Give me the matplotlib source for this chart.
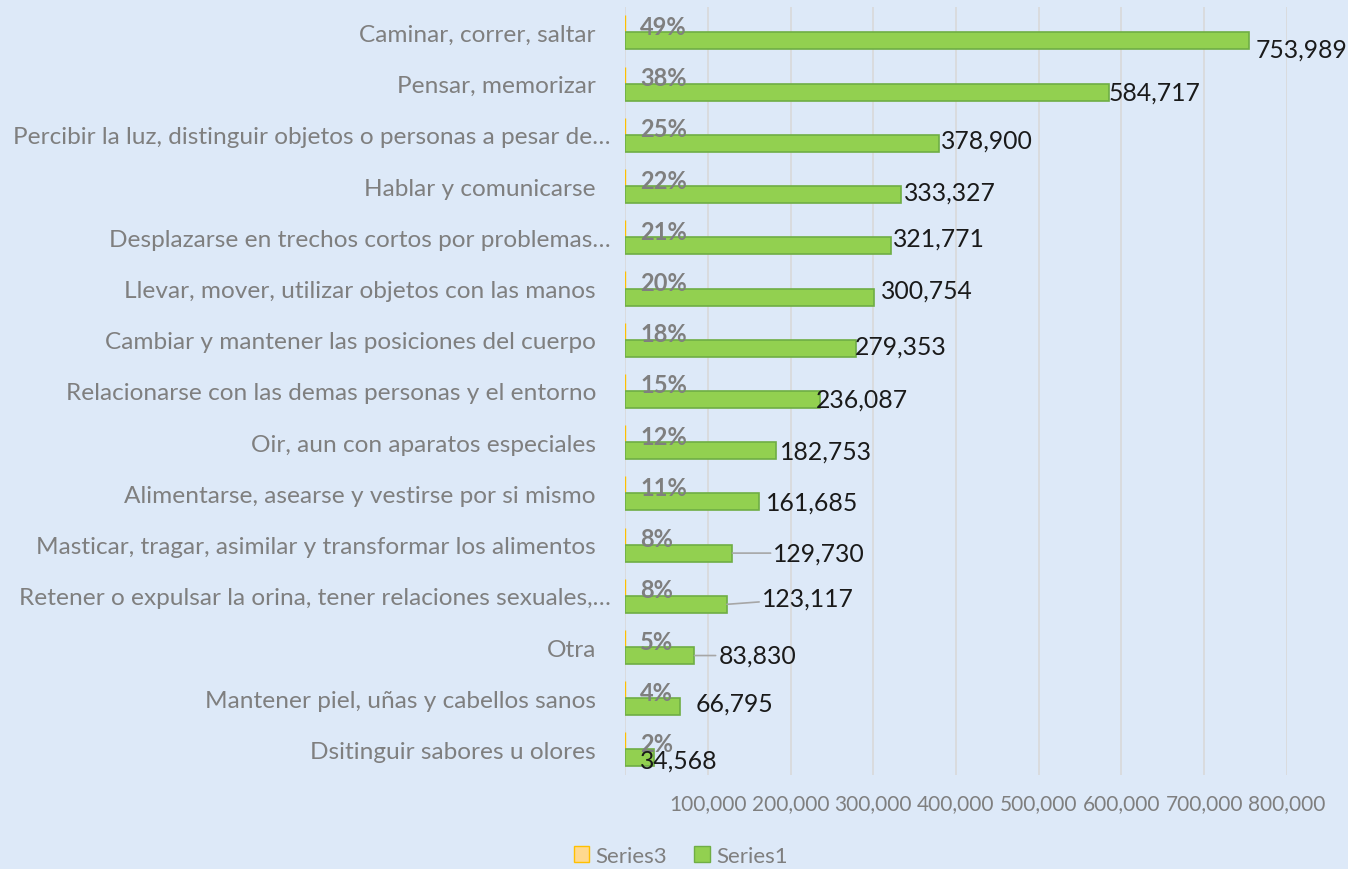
import matplotlib
matplotlib.use("Agg")
import matplotlib.pyplot as plt
import matplotlib.transforms as mtransforms
from matplotlib.patches import Patch
from matplotlib.ticker import FuncFormatter

# ---------------- data ----------------
categories = [
    "Caminar, correr, saltar",
    "Pensar, memorizar",
    "Percibir la luz, distinguir objetos o personas a pesar de…",
    "Hablar y comunicarse",
    "Desplazarse en trechos cortos por problemas…",
    "Llevar, mover, utilizar objetos con las manos",
    "Cambiar y mantener las posiciones del cuerpo",
    "Relacionarse con las demas personas y el entorno",
    "Oir, aun con aparatos especiales",
    "Alimentarse, asearse y vestirse por si mismo",
    "Masticar, tragar, asimilar y transformar los alimentos",
    "Retener o expulsar la orina, tener relaciones sexuales,…",
    "Otra",
    "Mantener piel, uñas y cabellos sanos",
    "Dsitinguir sabores u olores",
]
series1 = [753989, 584717, 378900, 333327, 321771, 300754, 279353, 236087,
           182753, 161685, 129730, 123117, 83830, 66795, 34568]
series3 = [0.49, 0.38, 0.25, 0.22, 0.21, 0.20, 0.18, 0.15,
           0.12, 0.11, 0.08, 0.08, 0.05, 0.04, 0.02]
xticks = [100000, 200000, 300000, 400000, 500000, 600000, 700000, 800000]

# label nudges in pixels (dx, dy), leader line flag
label_off = [(7, -8, 0), (0, 0, 0), (2, 3, 0), (3, 3, 0), (2, 8, 0),
             (7, 7, 0), (-1, 2, 0), (-5, 0, 0), (4, 0, 0), (7, 0, 0),
             (41, 0, 1), (35, 6, 1), (24, 0, 1), (15, 4, 0), (-14, -2, 0)]

bg = "#dde9f8"
green = "#92d050"
green_edge = "#6fae45"
orange_face = "#ffd98f"
orange_edge = "#ffc000"
grey = "#7f7f7f"

plt.rcParams['font.family'] = ['Lato', 'DejaVu Sans']

fig = plt.figure(figsize=(13.48, 8.7), dpi=100, facecolor=bg)
ax = fig.add_axes([0.4637, 0.108, 0.4910, 0.883])
ax.set_facecolor(bg)

ypos = list(range(len(categories)))
h = 0.333
ax.barh([y - h / 2 for y in ypos], series3, height=h, color=orange_face,
        edgecolor=orange_edge, linewidth=1, zorder=3)
ax.barh([y + h / 2 for y in ypos], series1, height=h, color=green,
        edgecolor=green_edge, linewidth=1.2, zorder=3)

ax.set_ylim(len(categories) - 0.5, -0.5)
ax.set_xlim(0, 800000)
ax.set_yticks(ypos)
ax.set_yticklabels(categories, fontsize=17.6, color=grey)
ax.set_xticks(xticks)
ax.xaxis.set_major_formatter(FuncFormatter(lambda v, p: f"{int(v):,}"))
ax.tick_params(axis='x', labelsize=15, labelcolor=grey, length=0, pad=13)
ax.tick_params(axis='y', length=0, pad=21)
ax.grid(axis='x', color="#d9d9d9", linewidth=1.2, zorder=0)
ax.axvline(0, color="#d9d9d9", linewidth=1.2, zorder=1)
for s in ax.spines.values():
    s.set_visible(False)

# truncated labels sit a bit further right, as in the source chart
shift = mtransforms.ScaledTranslation(15 / 100, 0, fig.dpi_scale_trans)
for lab in ax.get_yticklabels():
    if lab.get_text().endswith("…"):
        lab.set_transform(lab.get_transform() + shift)

# percentage labels
for y, p in zip(ypos, series3):
    ax.annotate(f"{round(p * 100)}%", xy=(0, y), xytext=(15, 6),
                textcoords='offset pixels', ha='left', va='center',
                fontsize=17, fontweight='bold', color=grey, zorder=5)

# value labels
for y, v, (dx, dy, lead) in zip(ypos, series1, label_off):
    props = None
    if lead:
        props = dict(arrowstyle='-', color="#a6a6a6", lw=1.2,
                     shrinkA=0, shrinkB=0)
    ax.annotate(f"{v:,}", xy=(v, y + h / 2), xytext=(dx, dy),
                textcoords='offset pixels', ha='left', va='center',
                fontsize=17.8, color="#1a1a1a", arrowprops=props, zorder=5)

handles = [Patch(facecolor=orange_face, edgecolor=orange_edge, label="Series3"),
           Patch(facecolor=green, edgecolor=green_edge, label="Series1")]
fig.legend(handles=handles, loc='center', bbox_to_anchor=(0.505, 0.015),
           ncol=2, frameon=False, fontsize=16, labelcolor=grey,
           handlelength=0.7, handleheight=0.7, handletextpad=0.3,
           columnspacing=1.2)

fig.savefig("out.png", dpi=100, facecolor=bg)
